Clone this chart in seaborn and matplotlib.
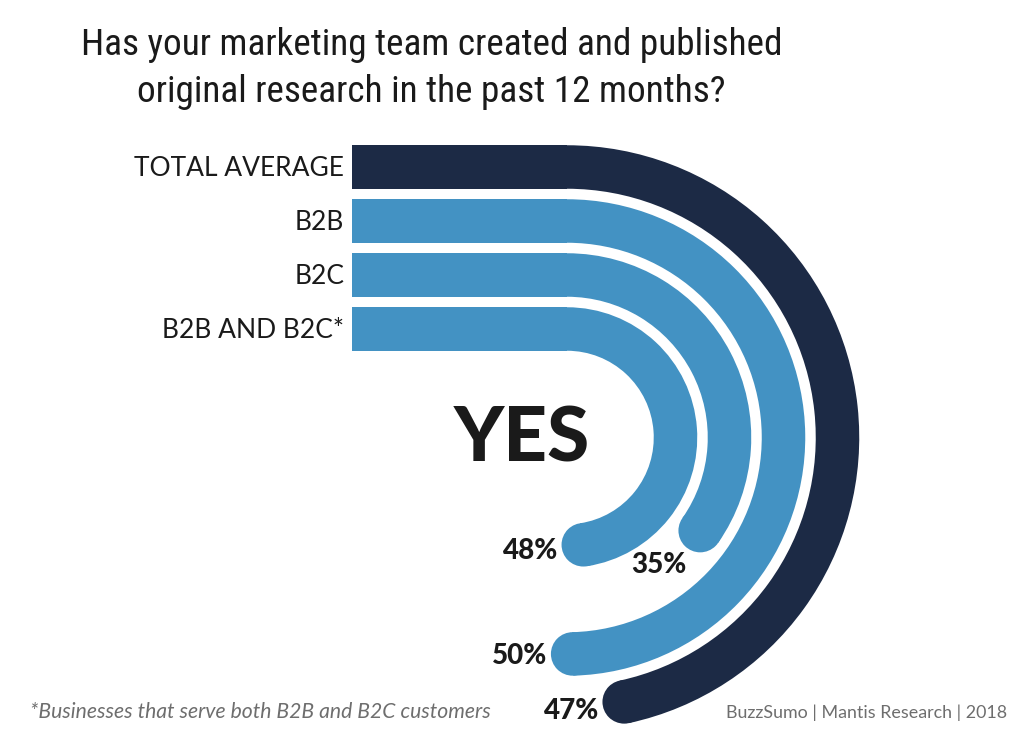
import numpy as np
import matplotlib
matplotlib.use("Agg")
import matplotlib.pyplot as plt
from matplotlib import font_manager
from matplotlib.patches import Rectangle, Wedge, Circle
import seaborn as sns

# ---------------- data ----------------
categories = ["TOTAL AVERAGE", "B2B", "B2C", "B2B AND B2C*"]
values = [47, 50, 35, 48]
value_labels = ["47%", "50%", "35%", "48%"]
title_lines = ["Has your marketing team created and published",
               "original research in the past 12 months?"]
center_text = "YES"
footnote = "*Businesses that serve both B2B and B2C customers"
source = "BuzzSumo | Mantis Research | 2018"

# ---------------- style ----------------
sns.set_theme(style="white")
palette = ["#1c2a45", "#4392c3", "#4392c3", "#4392c3"]

names = {f.name for f in font_manager.fontManager.ttflist}
def pick(*cands):
    for c in cands:
        if c in names:
            return c
    return "DejaVu Sans"

body_font = pick("Lato", "Open Sans", "DejaVu Sans")
title_font = pick("Liberation Sans Narrow", "Roboto Condensed", "Open Sans Condensed", "Lato")

W, H = 1024, 742
fig = plt.figure(figsize=(W / 100, H / 100), dpi=100)
ax = fig.add_axes([0, 0, 1, 1])
ax.set_xlim(0, W)
ax.set_ylim(H, 0)
ax.axis("off")

# geometry of the radial bars (screen-pixel data units)
cx, cy = 567, 437.5
x_start = 351.7
band_w = 43.5
r_outer = 270.5
step = 54
deg_per_pct = 3.57

for i, (cat, val, lab) in enumerate(zip(categories, values, value_labels)):
    r = r_outer - i * step
    col = palette[i]
    # straight part
    ax.add_patch(Rectangle((x_start, cy - r - band_w / 2), cx - x_start, band_w,
                           facecolor=col, edgecolor="none", lw=0))
    theta = val * deg_per_pct  # clockwise from top, in degrees
    ax.add_patch(Wedge((cx, cy), r + band_w / 2, -90, theta - 90, width=band_w,
                       facecolor=col, edgecolor="none", lw=0))
    t = np.deg2rad(theta)
    ex, ey = cx + r * np.sin(t), cy - r * np.cos(t)
    ax.add_patch(Circle((ex, ey), band_w / 2, facecolor=col, edgecolor="none", lw=0))
    # value label beyond the rounded end (tangent direction, leaning left)
    d = 53
    ang = t + 0.3 * (np.pi - t)
    lx, ly = ex + d * np.cos(ang), ey + d * np.sin(ang)
    ax.text(lx, ly + 9, lab, ha="center", va="baseline", fontsize=20,
            fontweight="black", color="#1a1a1a", family=body_font)
    # category label
    ax.text(x_start - 7.5, cy - r + 9.5, cat, ha="right", va="baseline",
            fontsize=19, color="#1a1a1a", family=body_font)

ax.text(521.5, 461.7, center_text, ha="center", va="baseline", fontsize=55,
        fontweight="black", color="#1a1a1a", family=body_font)

ax.text(431.5, 55, title_lines[0], ha="center", va="baseline", fontsize=26.8,
        color="#1a1a1a", family=title_font)
ax.text(431.5, 101.7, title_lines[1], ha="center", va="baseline", fontsize=26.8,
        color="#1a1a1a", family=title_font)

ax.text(30, 718, footnote, ha="left", va="baseline", fontsize=15.2, style="italic",
        color="#6e6e6e", family=body_font)
ax.text(1007, 718, source, ha="right", va="baseline", fontsize=12.9,
        color="#6e6e6e", family=body_font)

fig.savefig("out.png", dpi=100, facecolor="white")
